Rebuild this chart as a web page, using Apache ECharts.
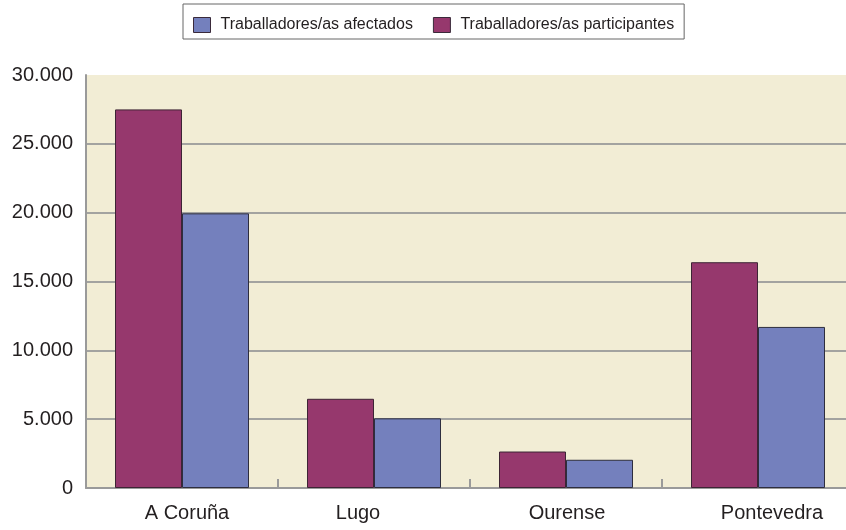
<!DOCTYPE html>
<html>
<head>
<meta charset="utf-8">
<script src="https://cdn.jsdelivr.net/npm/echarts@6/dist/echarts.min.js"></script>
<style>
html,body{margin:0;padding:0;background:#fff;}
#chart{width:846px;height:530px;}
</style>
</head>
<body>
<div id="chart"></div>
<script>
const categories = ['A Coruña', 'Lugo', 'Ourense', 'Pontevedra'];
const participantes = [27500, 6480, 2650, 16400];
const afectados = [19950, 5060, 2050, 11700];
const yTicks = [0, 5000, 10000, 15000, 20000, 25000, 30000];
const seriesNames = ['Traballadores/as afectados', 'Traballadores/as participantes'];

// label horizontal nudges (styling only)
const labelShift = [5, -16, 1, 14];

const fmt = v => String(v).replace(/\B(?=(\d{3})+(?!\d))/g, '.');

const rich = {};
labelShift.forEach((s, i) => {
  rich['c' + i] = {
    fontSize: 20, color: '#231f20', fontFamily: 'Liberation Sans, Arial, sans-serif',
    padding: s >= 0 ? [0, 0, 0, 2 * s] : [0, -2 * s, 0, 0]
  };
});

const chart = echarts.init(document.getElementById('chart'), null, {renderer: 'canvas'});
chart.setOption({
  animation: false,
  backgroundColor: '#ffffff',
  legend: {
    data: [seriesNames[0], seriesNames[1]],
    left: 183, top: 4,
    orient: 'horizontal',
    borderColor: '#666666', borderWidth: 1,
    padding: [13, 10, 6, 10],
    itemWidth: 17, itemHeight: 15, itemGap: 20,
    icon: 'rect',
    textStyle: {fontSize: 16, color: '#231f20', fontFamily: 'Liberation Sans, Arial, sans-serif', padding: [0, 0, 0, 5]},
    itemStyle: {borderColor: '#3a2a3a', borderWidth: 1}
  },
  grid: {
    left: 86, top: 75, width: 768, bottom: 42,
    show: true, backgroundColor: '#f2edd5', borderWidth: 0,
    containLabel: false,
    outerBoundsMode: 'none'
  },
  xAxis: {
    type: 'category',
    data: categories,
    axisLine: {show: true, lineStyle: {color: '#9a9a9a', width: 2}},
    axisTick: {show: true, inside: true, length: 9, alignWithLabel: false, lineStyle: {color: '#9a9a9a', width: 2}},
    axisLabel: {
      margin: 15,
      formatter: (v, i) => '{c' + i + '|' + v + '}',
      rich: rich
    },
    splitLine: {show: false}
  },
  yAxis: {
    type: 'value',
    min: yTicks[0], max: yTicks[yTicks.length - 1], interval: yTicks[1] - yTicks[0],
    axisLine: {show: true, lineStyle: {color: '#9a9a9a', width: 2}},
    axisTick: {show: false},
    axisLabel: {
      margin: 13, fontSize: 20, color: '#231f20',
      fontFamily: 'Liberation Sans, Arial, sans-serif',
      formatter: v => fmt(v)
    },
    splitLine: {show: true, showMaxLine: false, lineStyle: {color: '#a3a3a0', width: 2}}
  },
  series: [
    {
      name: seriesNames[1], type: 'bar', data: participantes,
      barWidth: 67, barGap: '0%',
      itemStyle: {color: '#96386d', borderColor: '#3d2435', borderWidth: 1}
    },
    {
      name: seriesNames[0], type: 'bar', data: afectados,
      barWidth: 67, barGap: '0%',
      itemStyle: {color: '#7480bd', borderColor: '#2e2e3e', borderWidth: 1}
    }
  ]
});
</script>
</body>
</html>
